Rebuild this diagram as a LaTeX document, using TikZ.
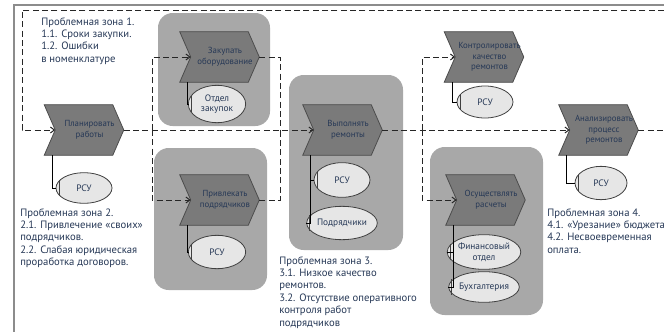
\documentclass[tikz,border=0pt]{standalone}
\usepackage{fontspec}
\setmainfont{PT Sans}
\usetikzlibrary{shapes.geometric,calc,arrows.meta}
\pgfdeclarelayer{bg}
\pgfsetlayers{bg,main}
\definecolor{txt}{RGB}{38,56,86}
\definecolor{grp}{RGB}{168,168,168}
\definecolor{chv}{RGB}{122,122,122}
\definecolor{ellf}{RGB}{230,230,230}
\definecolor{frm}{RGB}{140,140,140}
\newcommand{\mychev}[1]{\filldraw[chevpath] ($(#1.north west)+(-11,0)$) -- ($(#1.north east)+(-11,0)$) -- (#1.east) -- ($(#1.south east)+(-11,0)$) -- ($(#1.south west)+(-11,0)$) -- (#1.west) -- cycle;}
\newcommand{\orgtick}[1]{\draw[orgline] ($(#1.west)+(3.5,-8)$) -- ($(#1.west)+(3.5,8)$);}
\begin{document}
\begin{tikzpicture}[x=0.75pt,y=-0.75pt,
  chev/.style={rectangle, minimum width=51pt, minimum height=37.5pt, inner sep=0pt, align=center, font=\fontsize{6.6}{7.9}\selectfont, text=txt},
  chevpath/.style={fill=chv, draw=black!70, line width=0.6pt},
  grpbox/.style={fill=grp, rounded corners=11pt},
  ell/.style={ellipse, draw=black!75, fill=ellf, line width=0.6pt, inner sep=0pt, minimum width=42pt, minimum height=24pt, align=center, font=\fontsize{7}{8}\selectfont, text=txt},
  orgline/.style={draw=black!75, line width=0.6pt},
  conn/.style={draw=black, line width=0.7pt},
  flow/.style={draw=black!85, line width=0.75pt, dash pattern=on 4.5pt off 2.5pt},
  arr/.style={-{Straight Barb[length=3pt,width=4.5pt]}},
  zone/.style={anchor=north west, align=left, font=\fontsize{8}{9.3}\selectfont, text=txt, inner sep=0pt},
  frame/.style={draw=frm, line width=1.3pt}]
\useasboundingbox (0,0) rectangle (664,332);

% chevron nodes
\node[chev] (plan) at (89.5,130) {Планировать\\работы};
\node[chev] (zak) at (225,57) {Закупать\\оборудование};
\node[chev] (priv) at (225,200) {Привлекать\\подрядчиков};
\node[chev] (vyp) at (348,130) {Выполнять\\ремонты};
\node[chev] (kontr) at (489.5,57) {Контролировать\\качество\\ремонтов};
\node[chev] (osush) at (491,200) {Осуществлять\\расчеты};
\node[chev] (anal) at (604,130) {Анализировать\\процесс\\ремонтов};

% background layer: groups and chevron shapes
\begin{pgfonlayer}{bg}
\fill[grpbox] (158,13) rectangle (270,126);
\fill[grpbox] (154,148) rectangle (267,290);
\fill[grpbox] (289,75) rectangle (403,250);
\fill[grpbox] (430,147) rectangle (543,315);
\mychev{plan}
\mychev{zak}
\mychev{priv}
\mychev{vyp}
\mychev{kontr}
\mychev{osush}
\mychev{anal}
\end{pgfonlayer}

% org unit ellipses
\node[ell, minimum width=42pt, minimum height=23pt] (planE) at (84,188) {РСУ};
\node[ell, minimum width=43pt, minimum height=28pt] (zakE) at (217,104) {Отдел\\закупок};
\node[ell, minimum width=43pt, minimum height=25pt] (privE) at (217,252) {РСУ};
\node[ell, minimum width=42pt, minimum height=26pt] (vypE1) at (342,180) {РСУ};
\node[ell, minimum width=42pt, minimum height=25pt] (vypE2) at (342,223) {Подрядчики};
\node[ell, minimum width=42pt, minimum height=24pt] (kontrE) at (485,102) {РСУ};
\node[ell, minimum width=39pt, minimum height=25pt] (analE) at (601,183) {РСУ};
\node[ell, minimum width=43pt, minimum height=26pt] (osE1) at (484,252) {Финансовый\\отдел};
\node[ell, minimum width=43pt, minimum height=23pt] (osE2) at (484,287) {Бухгалтерия};
\foreach \e in {planE,zakE,privE,vypE1,vypE2,kontrE,analE,osE1,osE2} {\orgtick{\e}}

% chevron to org unit connectors
\draw[conn] ($(plan.south west)+(-3,0)$) |- (planE.west);
\draw[conn] ($(zak.south west)+(-3,0)$) |- (zakE.west);
\draw[conn] ($(priv.south west)+(-3,0)$) |- (privE.west);
\draw[conn] ($(vyp.south west)+(-3,0)$) |- (vypE1.west);
\draw[conn] ($(vyp.south west)+(-3,0)$) |- (vypE2.west);
\draw[conn] ($(kontr.south west)+(-3,0)$) |- (kontrE.west);
\draw[conn] ($(anal.south west)+(-3,0)$) |- (analE.west);
\draw[conn] ($(osush.south west)+(-3,0)$) |- (osE1.west);
\draw[conn] ($(osush.south west)+(-3,0)$) |- (osE2.west);

% frame
\draw[frame] (14,332) -- (14,5) -- (664,5);

% process flow
\coordinate (fbR) at (664,10);
\coordinate (fbL) at (22,10);
\coordinate (fbB) at (22,130);
\coordinate (outR) at (664,130);
\coordinate (sp1) at (152,130);
\coordinate (mg1) at (280,130);
\coordinate (sp2) at (422,130);
\draw[flow,arr] (fbR) -- (fbL) -- (fbB) -- (plan.west);
\draw[flow,arr] (plan.east) -- (vyp.west);
\draw[flow,arr] (sp1) |- (zak.west);
\draw[flow,arr] (sp1) |- (priv.west);
\draw[flow] (zak.east) -| (mg1);
\draw[flow] (priv.east) -| (mg1);
\draw[flow,arr] (vyp.east) -- (anal.west);
\draw[flow,arr] (sp2) |- (kontr.west);
\draw[flow,arr] (sp2) |- (osush.west);
\draw[flow] (anal.east) -- (outR);

% problem zones
\node[zone] (pz1) at (41,17) {Проблемная зона 1.\\1.1. Сроки закупки.\\1.2. Ошибки\\в номенклатуре};
\node[zone] (pz2) at (20,208) {Проблемная зона 2.\\2.1. Привлечение «своих»\\подрядчиков.\\2.2. Слабая юридическая\\проработка договоров.};
\node[zone] (pz3) at (279,256) {Проблемная зона 3.\\3.1. Низкое качество\\ремонтов.\\3.2. Отсутствие оперативного\\контроля работ\\подрядчиков};
\node[zone] (pz4) at (547,208) {Проблемная зона 4.\\4.1. «Урезание» бюджета\\4.2. Несвоевременная\\оплата.};
\end{tikzpicture}
\end{document}
